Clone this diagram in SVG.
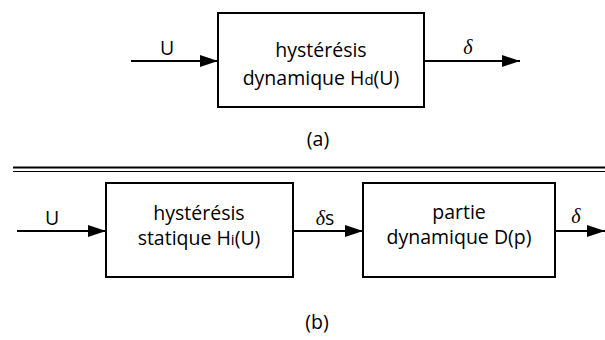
<svg xmlns="http://www.w3.org/2000/svg" width="605" height="340" viewBox="0 0 605 340">
<style>
.box{fill:#fff;stroke:#000;stroke-width:2}
.ln{stroke:#000;stroke-width:2;fill:none}
.t{font-family:"Open Sans","Noto Sans",sans-serif;font-size:19.5px;fill:#000;text-anchor:middle}
.g{font-family:"Liberation Serif",serif;font-style:italic;font-size:20px;fill:#000;text-anchor:middle}
.sub{font-size:15px}
</style>
<defs>
<marker id="ah" markerWidth="18" markerHeight="12" refX="18" refY="6" orient="auto" markerUnits="userSpaceOnUse">
<path d="M0,0 L18,6 L0,12 Z" fill="#000"/>
</marker>
</defs>
<g id="connectors">
<line class="ln" x1="131" y1="61" x2="218" y2="61" marker-end="url(#ah)"/>
<line class="ln" x1="424" y1="61" x2="520" y2="61" marker-end="url(#ah)"/>
<line class="ln" x1="17" y1="231" x2="106" y2="231" marker-end="url(#ah)"/>
<line class="ln" x1="293" y1="231" x2="363" y2="231" marker-end="url(#ah)"/>
<line class="ln" x1="555" y1="231" x2="605" y2="231" marker-end="url(#ah)"/>
</g>
<g id="labels">
<text class="t" x="167" y="55">U</text>
<text class="g" x="468" y="54">δ</text>
<text class="t" x="318" y="146">(a)</text>
<text class="t" x="52" y="225">U</text>
<text x="325" y="225" class="t"><tspan class="g">δ</tspan>s</text>
<text class="g" x="576" y="223">δ</text>
<text class="t" x="317" y="329">(b)</text>
</g>
<g id="separator">
<line x1="13" y1="167.5" x2="605" y2="167.5" stroke="#000" stroke-width="2"/>
<line x1="13" y1="171.5" x2="605" y2="171.5" stroke="#000" stroke-width="1.2"/>
</g>
<g id="node-hd">
<rect class="box" x="218" y="13" width="206" height="94"/>
<text class="t" x="321" y="57">hystérésis</text>
<text class="t" x="321" y="85">dynamique H<tspan class="sub">d</tspan>(U)</text>
</g>
<g id="node-hi">
<rect class="box" x="106" y="183" width="187" height="94"/>
<text class="t" x="199" y="220">hystérésis</text>
<text class="t" x="199" y="245">statique H<tspan class="sub">i</tspan>(U)</text>
</g>
<g id="node-d">
<rect class="box" x="363" y="183" width="192" height="94"/>
<text class="t" x="459" y="219">partie</text>
<text class="t" x="459" y="244">dynamique D(p)</text>
</g>
</svg>
